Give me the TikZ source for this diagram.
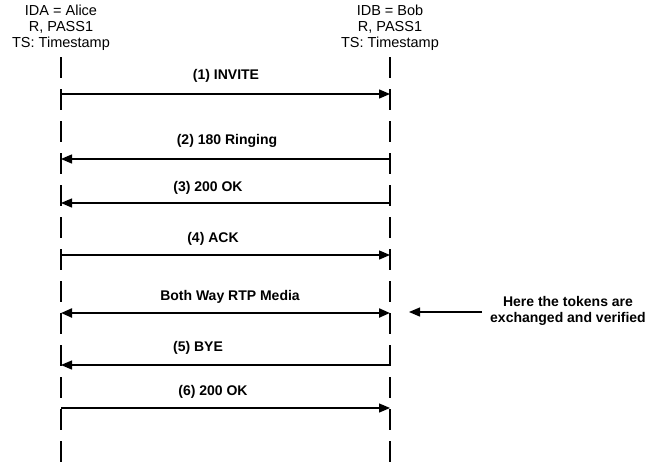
\documentclass[tikz,border=0pt]{standalone}
\usepackage{fontspec}
\setmainfont{Liberation Sans}
\usepackage{tikz}
\usetikzlibrary{positioning,arrows.meta}

\begin{document}
\begin{tikzpicture}[%
    x=1pt, y=-1pt,
    >={Triangle[length=11pt,width=9pt]},
    align=center,
    party/.style={%
      font=\fontsize{14.5}{16}\selectfont,
      inner sep=0pt
    },
    lifeline/.style={%
      line width=2.8pt,
      dash pattern=on 21pt off 11pt
    },
    msg/.style={%
      ->,
      line width=1.3pt
    },
    media/.style={%
      <->,
      line width=2.2pt
    },
    msglabel/.style={%
      font=\bfseries\fontsize{14}{16}\selectfont,
      inner sep=0pt
    }
  ]
    \useasboundingbox (0,0) rectangle (665,464);

    \node[party] (A) at (61,28) {IDA = Alice\\R, PASS1\\TS: Timestamp};
    \node[party] (B) at (390,28) {IDB = Bob\\R, PASS1\\TS: Timestamp};

    \coordinate (Atop) at (61,57);
    \coordinate (Btop) at (390,57);
    \coordinate (Abot) at (61,464);
    \coordinate (Bbot) at (390,464);

    \draw[lifeline] (Atop) -- (Abot);
    \draw[lifeline] (Btop) -- (Bbot);

    % messages
    \coordinate (A1) at (61,94);   \coordinate (B1) at (390,94);
    \coordinate (A2) at (61,159);  \coordinate (B2) at (390,159);
    \coordinate (A3) at (61,203);  \coordinate (B3) at (390,203);
    \coordinate (A4) at (61,255);  \coordinate (B4) at (390,255);
    \coordinate (A5) at (61,313);  \coordinate (B5) at (390,313);
    \coordinate (A6) at (61,365);  \coordinate (B6) at (390,365);
    \coordinate (A7) at (61,408);  \coordinate (B7) at (390,408);

    \draw[msg] (A1) -- (B1);
    \draw[msg] (B2) -- (A2);
    \draw[msg] (B3) -- (A3);
    \draw[msg] (A4) -- (B4);
    \draw[media] (A5) -- (B5);
    \draw[msg] (B6) -- (A6);
    \draw[msg] (A7) -- (B7);

    \node[msglabel] (l1) at (226,76) {(1) INVITE};
    \node[msglabel] (l2) at (227,141) {(2) 180 Ringing};
    \node[msglabel] (l3) at (208,188) {(3) 200 OK};
    \node[msglabel] (l4) at (213,239) {(4) ACK};
    \node[msglabel] (l5) at (230,297) {Both Way RTP Media};
    \node[msglabel] (l6) at (198,348) {(5) BYE};
    \node[msglabel] (l7) at (213,392) {(6) 200 OK};

    % note
    \node[msglabel] (note) at (568,311) {Here the tokens are\\exchanged and verified};
    \coordinate (notestart) at (482,312);
    \coordinate (noteend) at (409,312);
    \draw[msg] (notestart) -- (noteend);
  \end{tikzpicture}
\end{document}
